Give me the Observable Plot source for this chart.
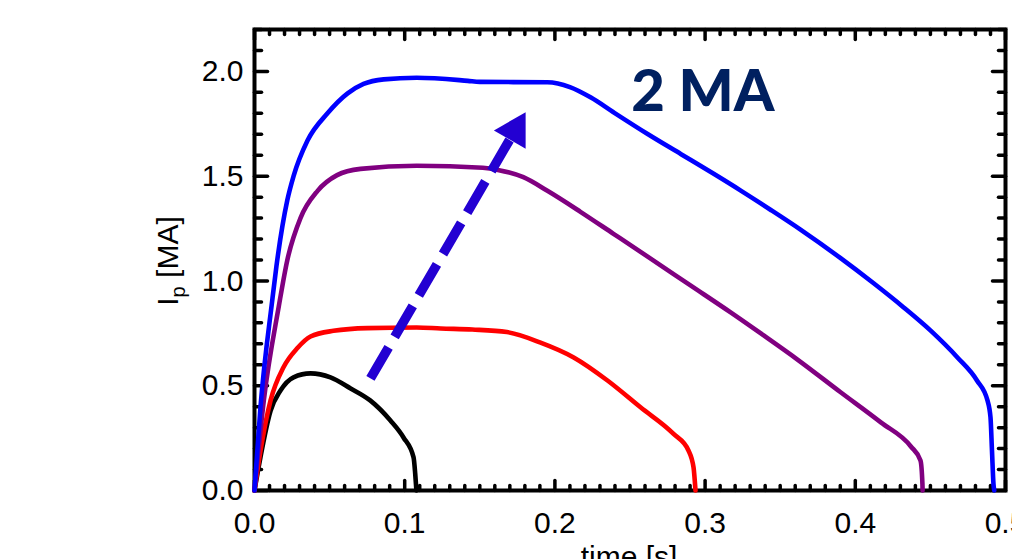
<!DOCTYPE html>
<html><head><meta charset="utf-8">
<script src="https://cdn.jsdelivr.net/npm/d3@7"></script>
<script src="https://cdn.jsdelivr.net/npm/@observablehq/plot@0.6"></script>
<style>html,body{margin:0;padding:0;background:#fff;overflow:hidden}svg{display:block}</style>
</head><body><div id="chart"></div>
<script>
// ---- data (time [s], Ip [MA]) ----
const blackT = [0, 0.004, 0.0107, 0.0173, 0.026, 0.0373, 0.0506, 0.064, 0.077, 0.0905, 0.0992, 0.1059, 0.107, 0.1078];
const blackI = [0, 0.16, 0.38, 0.477, 0.54, 0.559, 0.54, 0.487, 0.43, 0.334, 0.253, 0.158, 0.08, 0];

const redT = [0, 0.004, 0.0107, 0.0193, 0.0286, 0.0373, 0.0526, 0.0752, 0.108, 0.124, 0.145, 0.168, 0.19, 0.2125, 0.235, 0.257, 0.279, 0.289, 0.2923, 0.2936];
const redI = [0, 0.19, 0.43, 0.588, 0.68, 0.735, 0.762, 0.775, 0.778, 0.773, 0.768, 0.756, 0.707, 0.635, 0.525, 0.397, 0.27, 0.19, 0.11, 0];

const purpleT = [0, 0.0062, 0.0162, 0.0218, 0.0306, 0.042, 0.055, 0.0706, 0.108, 0.152, 0.162, 0.179, 0.195, 0.217, 0.239, 0.262, 0.29, 0.317, 0.339, 0.3615, 0.39, 0.417, 0.437, 0.4434, 0.4447, 0.4448];
const purpleI = [0, 0.43, 0.88, 1.098, 1.30, 1.43, 1.505, 1.535, 1.55, 1.54, 1.53, 1.495, 1.43, 1.33, 1.225, 1.115, 0.98, 0.85, 0.74, 0.625, 0.47, 0.325, 0.21, 0.143, 0.03, 0];

const blueT = [0, 0.004, 0.0118, 0.0146, 0.0218, 0.026, 0.0353, 0.0486, 0.062, 0.0726, 0.086, 0.108, 0.142, 0.15, 0.195, 0.21, 0.224, 0.239, 0.262, 0.284, 0.306, 0.324, 0.3435, 0.3635, 0.39, 0.412, 0.432, 0.45, 0.468, 0.481, 0.488, 0.490, 0.491, 0.492, 0.4925];
const blueI = [0, 0.40, 0.907, 1.07, 1.384, 1.50, 1.67, 1.80, 1.895, 1.94, 1.962, 1.97, 1.955, 1.95, 1.948, 1.925, 1.875, 1.805, 1.70, 1.605, 1.51, 1.43, 1.34, 1.245, 1.11, 0.99, 0.875, 0.764, 0.635, 0.525, 0.43, 0.35, 0.19, 0.03, 0];

const seriesNames = ["black", "red", "purple", "blue"];
const seriesColors = ["#000000", "#ff0000", "#8f0096", "#0000ff"];

const xMajorTicks = [0, 0.1, 0.2, 0.3, 0.4, 0.5];
const yMajorTicks = [0, 0.5, 1.0, 1.5, 2.0];
const xMinorTicks = d3.range(0, 51).map(i => i / 100);
const yMinorTicks = d3.range(0, 23).map(i => i / 10);

// arrow annotation (data coords): tail, shaft end, tip
const arrowTail = {t: 0.0772, ip: 0.535};
const arrowShaftEnd = {t: 0.1712, ip: 1.69};
const arrowTip = {t: 0.1804, ip: 1.804};
const annotationText = "2 MA";
const annotationPos = {t: 0.2985, ip: 1.90};

const xLabel = "time [s]";

// ---- build table ----
const tables = [[blackT, blackI], [redT, redI], [purpleT, purpleI], [blueT, blueI]];
const rows = tables.flatMap(([T, I], k) => T.map((t, i) => ({t, ip: I[i], name: seriesNames[k]})));

const tickShape = {draw(ctx, l) { ctx.moveTo(0, 0); ctx.lineTo(0, -l); }};
const tk = (data, opts) => Plot.vector(data, {anchor: "start", shape: tickShape, stroke: "black", strokeWidth: 3.5, ...opts});
const xMin = xMinorTicks.filter(v => !xMajorTicks.some(m => Math.abs(m - v) < 1e-9));
const yMin = yMinorTicks.filter(v => !yMajorTicks.some(m => Math.abs(m - v) < 1e-9));

const plot = Plot.plot({
  width: 1012, height: 559,
  marginLeft: 254, marginRight: 7, marginTop: 29, marginBottom: 69,
  style: {fontFamily: "'Liberation Sans', Arial, Helvetica, sans-serif", fontSize: "30px", background: "white", overflow: "visible"},
  x: {domain: [0, 0.5], label: null},
  y: {domain: [0, 2.2], label: null},
  color: {domain: seriesNames, range: seriesColors},
  marks: [
    Plot.axisX(xMajorTicks, {tickSize: 0, tickPadding: 21, tickFormat: d3.format(".1f"), fontSize: 30, fill: "black"}),
    Plot.axisY(yMajorTicks, {tickSize: 0, tickPadding: 11, tickFormat: d3.format(".1f"), fontSize: 30, fill: "black"}),
    // inward ticks on all sides
    tk(xMajorTicks, {x: d => d, frameAnchor: "bottom", length: 10}),
    tk(xMin, {x: d => d, frameAnchor: "bottom", length: 5}),
    tk(xMajorTicks, {x: d => d, frameAnchor: "top", rotate: 180, length: 10}),
    tk(xMin, {x: d => d, frameAnchor: "top", rotate: 180, length: 5}),
    tk(yMajorTicks, {y: d => d, frameAnchor: "left", rotate: 90, length: 13}),
    tk(yMin, {y: d => d, frameAnchor: "left", rotate: 90, length: 7}),
    tk(yMajorTicks, {y: d => d, frameAnchor: "right", rotate: -90, length: 13}),
    tk(yMin, {y: d => d, frameAnchor: "right", rotate: -90, length: 7}),
    Plot.frame({stroke: "black", strokeWidth: 4}),
    Plot.line(rows, {x: "t", y: "ip", z: "name", stroke: "name", strokeWidth: 4.6, curve: "monotone-x", strokeLinejoin: "round"}),
    // dashed arrow
    Plot.link([{a: arrowTail, b: arrowShaftEnd}], {x1: d => d.a.t, y1: d => d.a.ip, x2: d => d.b.t, y2: d => d.b.ip,
      stroke: "#2300d2", strokeWidth: 9.5, strokeDasharray: "36,12", strokeLinecap: "butt"}),
    Plot.dot([arrowTip], {x: "t", y: "ip", symbol: "triangle", r: 13.6, rotate: 30, dx: -10.4, dy: 18.0, fill: "#2300d2", stroke: "none"}),
    Plot.text([annotationPos], {x: "t", y: "ip", text: () => annotationText, fontFamily: "Lato, 'Open Sans', sans-serif",
      fontWeight: 900, fontSize: 58, fill: "#002060", textAnchor: "middle", lineAnchor: "middle"})
  ]
});

const svg = d3.select(plot);
// y-axis label with subscript
const yl = svg.append("text")
  .attr("transform", "translate(178,261) rotate(-90)")
  .attr("text-anchor", "middle")
  .attr("font-size", 30)
  .attr("fill", "black");
yl.append("tspan").text("I");
yl.append("tspan").attr("font-size", 20).attr("dy", 7).text("p");
yl.append("tspan").attr("dy", -7).text(" [MA]");
// x-axis label (partly cut off at the bottom, like the reference)
svg.append("text")
  .attr("x", 629).attr("y", 567)
  .attr("text-anchor", "middle")
  .attr("font-size", 30)
  .attr("fill", "black")
  .text(xLabel);

document.getElementById("chart").appendChild(plot);
</script>
</body></html>
